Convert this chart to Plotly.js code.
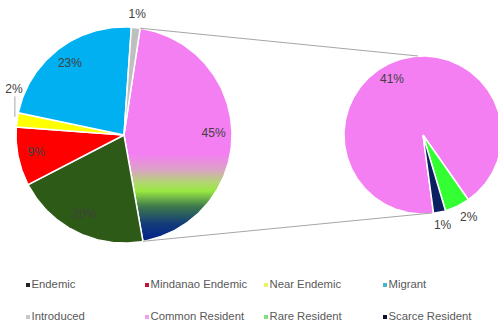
<!DOCTYPE html>
<html>
<head>
<meta charset="utf-8">
<script src="https://cdn.plot.ly/plotly-3.0.1.min.js"></script>
<style>html,body{margin:0;padding:0;background:#fff;}#chart{width:498px;height:325px;}</style>
</head>
<body>
<div id="chart"></div>
<script>
// ---- data (percent of all species) ----
const categories = ['Endemic','Mindanao Endemic','Near Endemic','Migrant','Introduced','Common Resident','Rare Resident','Scarce Resident'];
const shares = [20.2, 8.8, 2.1, 22.8, 1.3, 41.4, 2.3, 1.1];
const mainCategories = ['Endemic','Mindanao Endemic','Near Endemic','Migrant','Introduced'];
const subCategories = ['Common Resident','Rare Resident','Scarce Resident'];

// ---- styles ----
const colors = {
  'Endemic':'#2E5A17','Mindanao Endemic':'#FF0000','Near Endemic':'#FFFF00','Migrant':'#00B0F0',
  'Introduced':'#BFBFBF','Common Resident':'#F47FF2','Rare Resident':'#33FF33','Scarce Resident':'#0A2060'
};
const legendColors = {
  'Endemic':'#222222','Mindanao Endemic':'#C0143C','Near Endemic':'#F0F060','Migrant':'#3FB8D8',
  'Introduced':'#C8C8C8','Common Resident':'#F0A0E8','Rare Resident':'#80E080','Scarce Resident':'#101030'
};

const W = 498, H = 325;
const L = {cx:124, cy:135, r:108, start:8.6};
const R = {cx:423, cy:135, r:79, start:172.3};

const val = c => shares[categories.indexOf(c)];
const total = shares.reduce((a,b)=>a+b,0);
const otherVal = subCategories.reduce((a,c)=>a+val(c),0);
const pct = v => Math.round(v/total*100) + '%';

function pt(p, ang, rr){ const a = ang*Math.PI/180; return [p.cx + rr*Math.sin(a), p.cy - rr*Math.cos(a)]; }
function wedge(p, a0, a1){
  const xs=[p.cx], ys=[p.cy];
  const n = Math.max(2, Math.ceil((a1-a0)/1));
  for(let i=0;i<=n;i++){ const q = pt(p, a0+(a1-a0)*i/n, p.r); xs.push(q[0]); ys.push(q[1]); }
  xs.push(p.cx); ys.push(p.cy);
  return {xs, ys};
}

const traces = [];
const labelX=[], labelY=[], labelT=[];

// main pie: Other (gradient) then the five main categories clockwise
const mainOrder = [{name:'Other', v:otherVal}].concat(mainCategories.map(c=>({name:c, v:val(c)})));
let a = L.start;
const mainAngles = {};
mainOrder.forEach(s=>{
  const span = s.v/total*360;
  mainAngles[s.name] = [a, a+span];
  const w = wedge(L, a, a+span);
  const tr = {type:'scatter', mode:'lines', x:w.xs, y:w.ys, fill:'toself', hoverinfo:'skip',
    line:{color:'#ffffff', width:1.5}, showlegend:false};
  if(s.name==='Other'){
    tr.fillcolor = colors['Common Resident'];
    tr.fillgradient = {type:'vertical', start:L.cy-L.r, stop:L.cy+L.r,
      colorscale:[[0,'#F47FF2'],[0.59,'#F47FF2'],[0.66,'#DCA2C6'],[0.72,'#B2D672'],[0.76,'#98E842'],[0.83,'#3E7A4C'],[0.91,'#133C78'],[0.97,'#062888'],[1,'#03206A']]};
  } else {
    tr.fillcolor = colors[s.name];
  }
  traces.push(tr);
  const mid = a + span/2;
  let q;
  if(s.name==='Introduced'){ q = pt(L, mid, L.r*1.12); }
  else if(s.name==='Near Endemic'){ q = pt(L, mid+14, L.r*1.1); }
  else { q = pt(L, mid, L.r*0.83); }
  labelX.push(q[0]); labelY.push(q[1]); labelT.push(pct(s.v));
  if(s.name==='Near Endemic'){
    const e = pt(L, mid, L.r);
    traces.push({type:'scatter', mode:'lines', x:[q[0]+1, q[0]+1], y:[q[1]+6, e[1]-3], line:{color:'#A6A6A6', width:1}, hoverinfo:'skip', showlegend:false});
  }
  a += span;
});

// secondary pie
let b = R.start;
const subAngles = {};
subCategories.forEach(c=>{
  const span = val(c)/otherVal*360;
  subAngles[c] = [b, b+span];
  const w = wedge(R, b, b+span);
  traces.push({type:'scatter', mode:'lines', x:w.xs, y:w.ys, fill:'toself', fillcolor:colors[c],
    line:{color:'#ffffff', width:1.5}, hoverinfo:'skip', showlegend:false});
  const mid = b + span/2;
  let q;
  if(c==='Common Resident'){ q = pt(R, mid-8, R.r*0.8); }
  else if(c==='Rare Resident'){ q = pt(R, mid-3, R.r*1.2); }
  else { q = pt(R, mid, R.r*1.18); }
  labelX.push(q[0]); labelY.push(q[1]); labelT.push(pct(val(c)));
  b += span;
});

// connector lines
const o = mainAngles['Other'];
const p1 = pt(L, o[0], L.r), p2 = pt(L, o[1], L.r);
traces.push({type:'scatter', mode:'lines', x:[p1[0], R.cx-5, null, p2[0], R.cx+9], y:[p1[1], R.cy-R.r, null, p2[1], R.cy+R.r-1],
  line:{color:'#A6A6A6', width:1}, hoverinfo:'skip', showlegend:false, connectgaps:false});

// data labels
traces.push({type:'scatter', mode:'text', x:labelX, y:labelY, text:labelT, textposition:'middle center',
  textfont:{family:'Liberation Sans, Arial, sans-serif', size:12, color:'#404040'}, hoverinfo:'skip', showlegend:false});

// legend (2 rows x 4 columns)
const colX = [28, 147, 266, 385], rowY = [285, 317];
const lx=[], ly=[], lc=[];
categories.forEach((c,i)=>{ lx.push(colX[i%4]); ly.push(rowY[Math.floor(i/4)]); lc.push(legendColors[c]); });
traces.push({type:'scatter', mode:'markers+text', x:lx, y:ly, text:categories, textposition:'middle right',
  marker:{symbol:'square', size:4, color:lc}, textfont:{family:'Liberation Sans, Arial, sans-serif', size:11.3, color:'#595959'},
  hoverinfo:'skip', showlegend:false});

const layout = {
  width:W, height:H, margin:{l:0,r:0,t:0,b:0}, paper_bgcolor:'#ffffff', plot_bgcolor:'#ffffff',
  xaxis:{range:[0,W], visible:false, fixedrange:true},
  yaxis:{range:[H,0], visible:false, fixedrange:true},
  showlegend:false
};
Plotly.newPlot('chart', traces, layout, {staticPlot:true, displayModeBar:false});
</script>
</body>
</html>
